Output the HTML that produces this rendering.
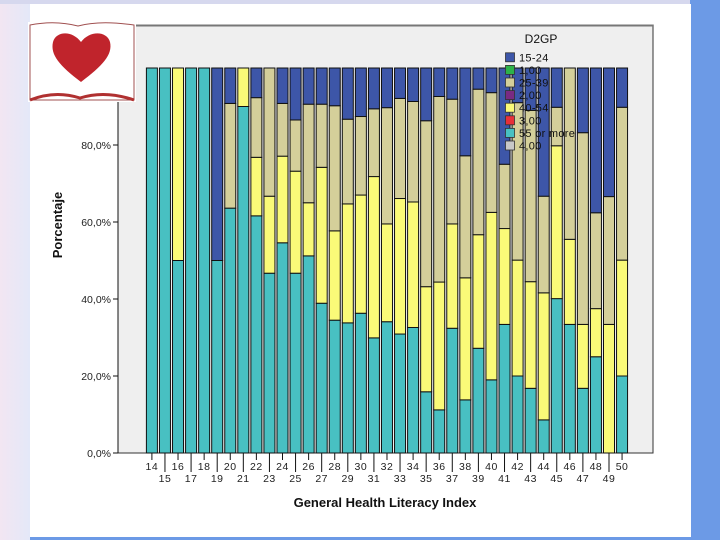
<!DOCTYPE html>
<html><head><meta charset="utf-8"><style>
html,body{margin:0;padding:0;width:720px;height:540px;overflow:hidden;background:#fff;font-family:"Liberation Sans",sans-serif}
</style></head><body>
<svg id="chart" width="720" height="540" xmlns="http://www.w3.org/2000/svg" font-family="Liberation Sans, sans-serif">
<defs>
<linearGradient id="lg" x1="0" x2="1"><stop offset="0" stop-color="#f2e6f2"/><stop offset="1" stop-color="#e4e8f8"/></linearGradient>
</defs>
<rect x="0" y="0" width="720" height="540" fill="#6c9ae6"/>
<rect x="0" y="0" width="30" height="540" fill="url(#lg)"/>
<rect x="0" y="0" width="690" height="4" fill="#d6d8ee"/>
<rect x="30" y="4" width="661" height="533" fill="#ffffff"/>
<rect x="118" y="25" width="535" height="428" fill="#efefef" stroke="#333" stroke-width="1"/>
<line x1="118" y1="25.5" x2="653" y2="25.5" stroke="#777" stroke-width="2"/>
<g id="bars"></g>
<g id="axes"></g>
<g>
<rect x="28" y="22" width="108" height="80" fill="#fff"/>
<path d="M30 25 Q55 20 78 26 Q100 20 134 25 L134 100 L30 100 Z" fill="#fff" stroke="#a05050" stroke-width="1"/>
<path d="M30 100 Q55 90 80 98 Q105 90 134 100" fill="none" stroke="#b03030" stroke-width="3"/>
<path d="M81 82 C60 66 50 55 53 42 C56 31 72 30 81 42 C90 30 107 31 110 42 C113 55 102 66 81 82 Z" fill="#c0242c"/>
</g>
<text transform="translate(62,225) rotate(-90)" text-anchor="middle" font-size="13" font-weight="bold" fill="#111">Porcentaje</text>
<text x="385" y="507" text-anchor="middle" font-size="13" font-weight="bold" fill="#111">General Health Literacy Index</text>
<g id="legend">
<text x="541" y="43" text-anchor="middle" font-size="12" fill="#111">D2GP</text>
</g>
</svg>
<script>
const categories = [14,15,16,17,18,19,20,21,22,23,24,25,26,27,28,29,30,31,32,33,34,35,36,37,38,39,40,41,42,43,44,45,46,47,48,49,50];
// cumulative tops (percent) for each stacked series, bottom to top
const cyan55 = [100,100,50,100,100,50,63.6,90,61.6,46.7,54.6,46.7,51.2,38.9,34.5,33.8,36.3,29.9,34.1,30.9,32.6,15.9,11.2,32.4,13.8,27.2,19,33.4,20,16.8,8.6,40.1,33.4,16.8,25,0,20];
const yellow4054 = [0,0,50,0,0,0,0,10,15.2,20,22.5,26.5,13.8,35.3,23.2,30.9,30.7,41.9,25.4,35.2,32.6,27.3,33.2,27.1,31.7,29.5,43.5,24.9,30.1,27.7,33,39.7,22.1,16.6,12.5,33.4,30.1];
const tan2539 = [0,0,0,0,0,0,27.2,0,15.5,33.3,13.7,13.3,25.6,16.4,32.5,22,20.4,17.6,30.2,26,26.1,43.1,48.2,32.4,31.7,37.8,31.1,16.7,40.9,44.5,25.1,10,44.5,49.8,24.9,33.2,39.7];
const blue1524 = categories.map((c,i)=>Math.max(0,100-cyan55[i]-yellow4054[i]-tan2539[i]));
const yTicks = [0,20,40,60,80];
const yTickLabels = ["0,0%","20,0%","40,0%","60,0%","80,0%"];
const legendLabels = ["15-24","1,00","25-39","2,00","40-54","3,00","55 or more","4,00"];
const legendColors = ["#3d56a8","#2db34a","#d4cf9a","#7a2a82","#fafa78","#e8303a","#48c0c2","#c8c8c8"];

const NS="http://www.w3.org/2000/svg";
const y0=453, pxPerPct=3.85;
const yScale = v => y0 - v*pxPerPct;
const xCenter = i => 151.9 + i*13.06;
const bw = 11;
function mk(tag, attrs, parent){const e=document.createElementNS(NS,tag);for(const k in attrs)e.setAttribute(k,attrs[k]);parent.appendChild(e);return e;}

const bars=document.getElementById('bars');
const series=[[cyan55,"#48c0c2","55-or-more"],[yellow4054,"#fafa78","40-54"],[tan2539,"#d4cf9a","25-39"],[blue1524,"#3d56a8","15-24"]];
categories.forEach((c,i)=>{
  let base=0;
  series.forEach(s=>{
    const v=s[0][i];
    if(v<=0) return;
    const r=mk('rect',{x:xCenter(i)-bw/2,y:yScale(base+v),width:bw,height:v*pxPerPct,fill:s[1],stroke:"#111","stroke-width":1},bars);
    
    
    base+=v;
  });
});

const axes=document.getElementById('axes');
const yl=mk('line',{x1:118,y1:100,x2:118,y2:453,stroke:"#111"},axes);


yTicks.forEach((t,k)=>{
  const y=yScale(t);
  mk('line',{x1:113,y1:y,x2:118,y2:y,stroke:"#111"},axes);
  const tx=mk('text',{x:111,y:y+4,"text-anchor":"end","font-size":"10.5",fill:"#222"},axes);
  tx.textContent=yTickLabels[k];
  
  
});
categories.forEach((c,i)=>{
  const x=xCenter(i), odd=i%2===1;
  mk('line',{x1:x,y1:453,x2:x,y2:odd?472:460,stroke:"#111"},axes);
  const tx=mk('text',{x:x,y:odd?482:470,"text-anchor":"middle","font-size":"10.5",fill:"#222","letter-spacing":"0.5"},axes);
  tx.textContent=c;
  
  
});

const legend=document.getElementById('legend');
legendLabels.forEach((l,k)=>{
  const y=57.3+k*12.6;
  const r=mk('rect',{x:505.5,y:y-4.5,width:9,height:9,fill:legendColors[k],stroke:"#333","stroke-width":0.8},legend);
  
  
  const t=mk('text',{x:519,y:y+4,"font-size":"11",fill:"#111","letter-spacing":"0.3"},legend);
  t.textContent=l;
  
  
});
</script>
</body></html>
